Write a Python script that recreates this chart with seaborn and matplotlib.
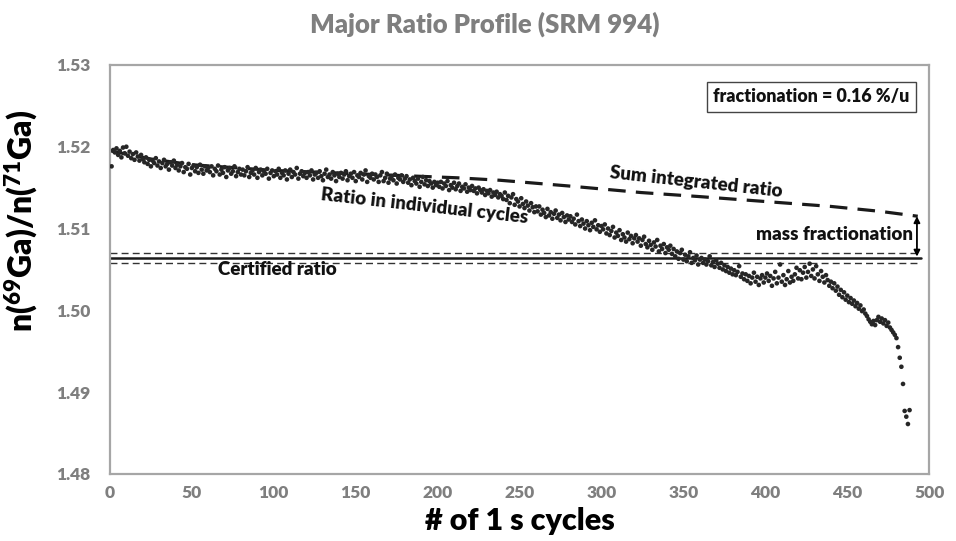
import numpy as np
import pandas as pd
import seaborn as sns
import matplotlib.pyplot as plt

ratio = [
    1.5176, 1.5196, 1.5193, 1.5198, 1.5190, 1.5195, 1.5187, 1.5199, 1.5192, 1.5200, 1.5189, 1.5194, 1.5186, 1.5191, 1.5184, 1.5193, 1.5188, 1.5183, 1.5190, 1.5185,
    1.5181, 1.5187, 1.5179, 1.5184, 1.5176, 1.5183, 1.5180, 1.5186, 1.5177, 1.5182, 1.5174, 1.5180, 1.5184, 1.5176, 1.5179, 1.5172, 1.5181, 1.5177, 1.5183, 1.5174,
    1.5178, 1.5171, 1.5176, 1.5180, 1.5169, 1.5175, 1.5173, 1.5179, 1.5166, 1.5174, 1.5177, 1.5170, 1.5175, 1.5168, 1.5178, 1.5172, 1.5167, 1.5176, 1.5171, 1.5174,
    1.5169, 1.5176, 1.5165, 1.5173, 1.5170, 1.5177, 1.5166, 1.5172, 1.5168, 1.5175, 1.5163, 1.5171, 1.5174, 1.5167, 1.5170, 1.5176, 1.5164, 1.5169, 1.5173, 1.5166,
    1.5172, 1.5165, 1.5170, 1.5175, 1.5163, 1.5168, 1.5171, 1.5166, 1.5174, 1.5162, 1.5169, 1.5172, 1.5165, 1.5170, 1.5167, 1.5173, 1.5161, 1.5168, 1.5171, 1.5164,
    1.5170, 1.5166, 1.5173, 1.5162, 1.5168, 1.5165, 1.5171, 1.5160, 1.5167, 1.5172, 1.5163, 1.5169, 1.5166, 1.5174, 1.5161, 1.5167, 1.5170, 1.5164, 1.5168, 1.5162,
    1.5169, 1.5165, 1.5171, 1.5160, 1.5166, 1.5168, 1.5162, 1.5170, 1.5164, 1.5159, 1.5167, 1.5172, 1.5163, 1.5166, 1.5161, 1.5169, 1.5165, 1.5158, 1.5167, 1.5163,
    1.5168, 1.5161, 1.5166, 1.5170, 1.5159, 1.5164, 1.5167, 1.5162, 1.5169, 1.5158, 1.5165, 1.5163, 1.5168, 1.5160, 1.5166, 1.5171, 1.5157, 1.5164, 1.5162, 1.5167,
    1.5160, 1.5166, 1.5163, 1.5157, 1.5165, 1.5169, 1.5158, 1.5162, 1.5167, 1.5156, 1.5161, 1.5164, 1.5159, 1.5166, 1.5155, 1.5162, 1.5160, 1.5165, 1.5157, 1.5161,
    1.5164, 1.5156, 1.5160, 1.5153, 1.5162, 1.5158, 1.5155, 1.5161, 1.5151, 1.5157, 1.5163, 1.5154, 1.5159, 1.5152, 1.5158, 1.5155, 1.5150, 1.5157, 1.5153, 1.5156,
    1.5151, 1.5157, 1.5149, 1.5155, 1.5152, 1.5158, 1.5147, 1.5153, 1.5150, 1.5156, 1.5148, 1.5152, 1.5155, 1.5146, 1.5151, 1.5149, 1.5154, 1.5145, 1.5150, 1.5147,
    1.5152, 1.5146, 1.5149, 1.5143, 1.5150, 1.5147, 1.5144, 1.5148, 1.5141, 1.5146, 1.5143, 1.5147, 1.5139, 1.5144, 1.5141, 1.5145, 1.5138, 1.5142, 1.5140, 1.5136,
    1.5144, 1.5135, 1.5140, 1.5131, 1.5138, 1.5142, 1.5129, 1.5136, 1.5133, 1.5127, 1.5137, 1.5130, 1.5125, 1.5133, 1.5128, 1.5122, 1.5131, 1.5126, 1.5120, 1.5127,
    1.5121, 1.5127, 1.5117, 1.5123, 1.5119, 1.5114, 1.5124, 1.5116, 1.5120, 1.5112, 1.5118, 1.5122, 1.5113, 1.5117, 1.5110, 1.5119, 1.5114, 1.5108, 1.5116, 1.5111,
    1.5115, 1.5108, 1.5112, 1.5105, 1.5117, 1.5109, 1.5103, 1.5111, 1.5106, 1.5100, 1.5109, 1.5104, 1.5098, 1.5107, 1.5102, 1.5110, 1.5099, 1.5104, 1.5096, 1.5103,
    1.5099, 1.5105, 1.5094, 1.5100, 1.5092, 1.5097, 1.5102, 1.5089, 1.5095, 1.5091, 1.5098, 1.5086, 1.5093, 1.5089, 1.5084, 1.5095, 1.5087, 1.5091, 1.5082, 1.5088,
    1.5092, 1.5084, 1.5088, 1.5079, 1.5086, 1.5090, 1.5081, 1.5077, 1.5085, 1.5080, 1.5074, 1.5083, 1.5078, 1.5086, 1.5072, 1.5079, 1.5075, 1.5081, 1.5070, 1.5077,
    1.5074, 1.5079, 1.5069, 1.5075, 1.5066, 1.5072, 1.5063, 1.5070, 1.5074, 1.5062, 1.5068, 1.5060, 1.5066, 1.5071, 1.5058, 1.5064, 1.5061, 1.5067, 1.5056, 1.5062,
    1.5064, 1.5058, 1.5062, 1.5056, 1.5060, 1.5066, 1.5055, 1.5059, 1.5053, 1.5061, 1.5057, 1.5052, 1.5058, 1.5050, 1.5055, 1.5048, 1.5053, 1.5046, 1.5051, 1.5044,
    1.5049, 1.5043, 1.5047, 1.5054, 1.5041, 1.5045, 1.5038, 1.5044, 1.5036, 1.5042, 1.5033, 1.5040, 1.5046, 1.5035, 1.5041, 1.5031, 1.5039, 1.5043, 1.5034, 1.5040,
    1.5045, 1.5036, 1.5042, 1.5030, 1.5039, 1.5047, 1.5033, 1.5040, 1.5056, 1.5035, 1.5043, 1.5031, 1.5038, 1.5048, 1.5034, 1.5041, 1.5036, 1.5044, 1.5052, 1.5039,
    1.5049, 1.5038, 1.5046, 1.5053, 1.5040, 1.5047, 1.5057, 1.5042, 1.5050, 1.5039, 1.5054, 1.5044, 1.5036, 1.5048, 1.5041, 1.5034, 1.5043, 1.5037, 1.5030, 1.5035,
    1.5027, 1.5033, 1.5024, 1.5029, 1.5019, 1.5025, 1.5016, 1.5022, 1.5013, 1.5018, 1.5010, 1.5015, 1.5008, 1.5012, 1.5005, 1.5009, 1.5002, 1.5006, 1.4999, 1.5001,
    1.4996, 1.4993, 1.4989, 1.4986, 1.4983, 1.4987, 1.4982, 1.4988, 1.4992, 1.4986, 1.4990, 1.4984, 1.4988, 1.4981, 1.4985, 1.4979, 1.4976, 1.4973, 1.4970, 1.4966,
    1.4955, 1.4942, 1.4931, 1.4910, 1.4877, 1.4870, 1.4861, 1.4878,
]
cycles = list(range(1, len(ratio) + 1))

# sum integrated (running) ratio, dashed curve
sum_cycles = [0, 25, 50, 100, 150, 212, 238, 280, 324, 360, 400, 440, 470, 493]
sum_ratio = [1.5195, 1.5185, 1.5178, 1.5171, 1.5167, 1.5162, 1.5159, 1.5152, 1.5144, 1.5139, 1.5133, 1.5127, 1.5121, 1.5115]

# certified value with uncertainty band
cert_x = [0, 495]
cert_ratio = 1.50637
cert_low = 1.50583
cert_high = 1.50698

x_ticks = [0, 50, 100, 150, 200, 250, 300, 350, 400, 450, 500]
y_ticks = [1.48, 1.49, 1.50, 1.51, 1.52, 1.53]

FONT = ["Lato", "DejaVu Sans"]
GREY = "#7f7f7f"
INK = "#111111"


def setup_style():
    sns.set_theme(style="white")
    plt.rcParams["font.family"] = FONT
    plt.rcParams["font.weight"] = "bold"


def plot_ratio_profile():
    setup_style()
    fig = plt.figure(figsize=(9.56, 5.41), dpi=100)
    ax = fig.add_axes([0.115, 0.124, 0.857, 0.756])

    df = pd.DataFrame({"cycle": cycles, "ratio": ratio})
    sns.scatterplot(data=df, x="cycle", y="ratio", color="#262626", s=11,
                    edgecolor="none", ax=ax, zorder=3)

    sns.lineplot(x=sum_cycles, y=sum_ratio, color="#1a1a1a", lw=2.3,
                 ax=ax, zorder=2).lines[-1].set_dashes([5.5, 3.2])

    ax.plot(cert_x, [cert_ratio] * 2, color="#1a1a1a", lw=1.8, zorder=1)
    ax.plot(cert_x, [cert_high] * 2, color="#333333", lw=1.0, ls=(0, (5, 3)), zorder=1)
    ax.plot(cert_x, [cert_low] * 2, color="#333333", lw=1.0, ls=(0, (5, 3)), zorder=1)

    # mass fractionation arrow
    ax.annotate("", xy=(492.5, cert_ratio + 0.0002), xytext=(492.5, sum_ratio[-1]),
                arrowprops=dict(arrowstyle="<|-|>", color="black", lw=1.3,
                                mutation_scale=9, shrinkA=0, shrinkB=0))

    ax.text(358, 1.51570, "Sum integrated ratio", rotation=-6.3, ha="center",
            va="center", fontsize=13.5, fontweight="heavy", color=INK)
    ax.text(192, 1.51276, "Ratio in individual cycles", rotation=-6.4, ha="center",
            va="center", fontsize=13.5, fontweight="heavy", color=INK)
    ax.text(442, 1.50922, "mass fractionation", ha="center", va="center",
            fontsize=13.5, fontweight="heavy", color=INK)
    ax.text(102, 1.50494, "Certified ratio", ha="center", va="center",
            fontsize=13.5, fontweight="heavy", color=INK)
    ax.text(428, 1.52609, "fractionation = 0.16 %/u", ha="center", va="center",
            fontsize=12.8, fontweight="heavy", color=INK,
            bbox=dict(boxstyle="square,pad=0.35", fc="white", ec="#444444", lw=1))

    ax.set_xlim(0, 500)
    ax.set_ylim(1.48, 1.53)
    ax.set_xticks(x_ticks)
    ax.set_yticks(y_ticks)
    ax.set_yticklabels([f"{v:.2f}" for v in y_ticks])
    ax.tick_params(axis="both", length=0, labelsize=12.5, labelcolor=GREY)
    ax.tick_params(axis="y", pad=14)
    ax.tick_params(axis="x", pad=8)
    for lab in ax.get_xticklabels() + ax.get_yticklabels():
        lab.set_fontweight("heavy")
    for sp in ax.spines.values():
        sp.set_color("#a6a6a6")
        sp.set_linewidth(1.6)

    ax.set_xlabel("# of 1 s cycles", fontsize=22, fontweight="heavy", color="black", labelpad=4)
    ax.set_ylabel(r"n($\mathregular{^{69}}$Ga)/n($\mathregular{^{71}}$Ga)", fontsize=23,
                  fontweight="heavy", color="black", labelpad=10)
    ax.yaxis.set_label_coords(-0.085, 0.62)
    fig.suptitle("Major Ratio Profile (SRM 994)", x=0.507, y=0.978, fontsize=18.5,
                 fontweight="heavy", color=GREY)

    fig.savefig("out.png", dpi=100)
    plt.close(fig)


if __name__ == "__main__":
    plot_ratio_profile()
